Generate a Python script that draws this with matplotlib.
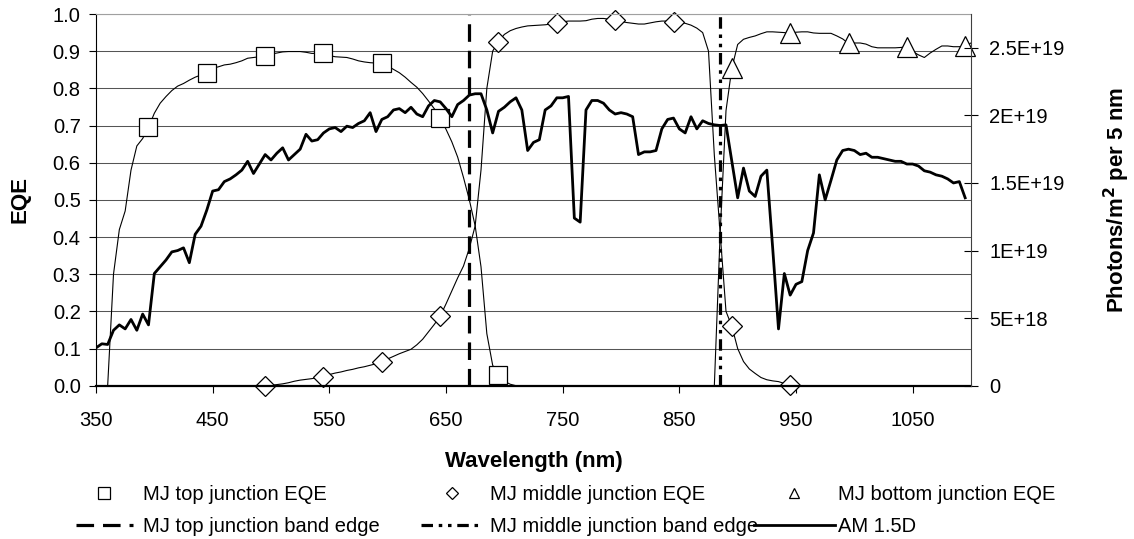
import matplotlib.pyplot as plt
import numpy as np
from matplotlib.lines import Line2D

plt.rcParams['font.family'] = ['Liberation Sans', 'DejaVu Sans']

# AM 1.5D spectrum, photons/m^2 per 5 nm (in units of 1E+18), 350..1095 nm
wl_am = np.arange(350, 1100, 5)
am15d = [2.8, 3.1, 3.05, 4.1, 4.5, 4.2, 4.9, 4.1, 5.3, 4.5,
         8.3, 8.8, 9.3, 9.9, 10.0, 10.2, 9.1, 11.2, 11.8, 13.0,
         14.4, 14.5, 15.1, 15.3, 15.6, 15.95, 16.6, 15.7, 16.4, 17.1,
         16.7, 17.2, 17.6, 16.7, 17.1, 17.5, 18.6, 18.1, 18.2, 18.7,
         19.0, 19.1, 18.8, 19.2, 19.1, 19.4, 19.6, 20.2, 18.8, 19.7,
         19.9, 20.4, 20.5, 20.2, 20.6, 20.1, 19.9, 20.7, 21.1, 21.0,
         20.5, 19.9, 20.8, 21.1, 21.5, 21.6, 21.6, 20.4, 18.7, 20.3,
         20.6, 21.0, 21.3, 20.4, 17.4, 18.0, 18.2, 20.4, 20.7, 21.3,
         21.3, 21.4, 12.4, 12.1, 20.4, 21.1, 21.1, 20.9, 20.4, 20.1,
         20.2, 20.1, 19.9, 17.1, 17.3, 17.3, 17.4, 19.0, 19.7, 19.8,
         19.0, 18.7, 19.9, 19.0, 19.6, 19.4, 19.3, 19.25, 19.3, 16.6,
         13.9, 16.1, 14.4, 14.0, 15.5, 15.95, 10.2, 4.2, 8.3, 6.7,
         7.5, 7.7, 10.0, 11.3, 15.6, 13.75, 15.2, 16.7, 17.4, 17.5,
         17.4, 17.1, 17.2, 16.9, 16.9, 16.8, 16.7, 16.6, 16.6, 16.4,
         16.4, 16.25, 15.9, 15.8, 15.6, 15.5, 15.3, 15.0, 15.1, 13.9]

# top junction EQE, 360..710 nm
wl_top = np.arange(360, 715, 5)
eqe_top = [0.0, 0.30, 0.42, 0.47, 0.58, 0.645, 0.665, 0.695,
           0.733, 0.760, 0.778, 0.794, 0.806, 0.813, 0.822, 0.830, 0.836, 0.842,
           0.854, 0.858, 0.863, 0.865, 0.869, 0.874, 0.881, 0.883, 0.885, 0.888,
           0.892, 0.895, 0.898, 0.899, 0.899, 0.899, 0.897, 0.894, 0.894, 0.894,
           0.888, 0.885, 0.884, 0.883, 0.879, 0.874, 0.871, 0.869, 0.868, 0.867,
           0.860, 0.851, 0.842, 0.830, 0.816, 0.803, 0.786, 0.766, 0.745, 0.720,
           0.690, 0.656, 0.615, 0.560, 0.500, 0.430, 0.320, 0.140, 0.055, 0.030,
           0.012, 0.004, 0.0]

# middle junction EQE, 495..945 nm
wl_mid = np.arange(495, 950, 5)
eqe_mid = [0.0,
           0.001, 0.003, 0.005, 0.008, 0.012, 0.015, 0.017, 0.019, 0.022, 0.024,
           0.030, 0.034, 0.037, 0.041, 0.044, 0.048, 0.051, 0.055, 0.059, 0.065,
           0.072, 0.079, 0.086, 0.092, 0.098, 0.110, 0.125, 0.145, 0.165, 0.187,
           0.220, 0.255, 0.290, 0.322, 0.370, 0.430, 0.580, 0.800, 0.900, 0.926,
           0.945, 0.955, 0.961, 0.965, 0.968, 0.969, 0.970, 0.971, 0.973, 0.977,
           0.979, 0.981, 0.981, 0.981, 0.982, 0.986, 0.988, 0.988, 0.986, 0.984,
           0.980, 0.977, 0.975, 0.973, 0.973, 0.976, 0.979, 0.981, 0.981, 0.979,
           0.978, 0.975, 0.970, 0.962, 0.950, 0.900, 0.620, 0.410, 0.200, 0.160,
           0.100, 0.065, 0.045, 0.033, 0.022, 0.016, 0.013, 0.011, 0.006, 0.002]

# bottom junction EQE, 880..1100 nm
wl_bot = np.arange(880, 1105, 5)
eqe_bot = [0.0, 0.41, 0.74, 0.854,
           0.918, 0.932, 0.937, 0.941, 0.947, 0.952, 0.952, 0.951, 0.950, 0.948,
           0.951, 0.952, 0.952, 0.949, 0.948, 0.948, 0.948, 0.941, 0.933, 0.921,
           0.922, 0.922, 0.919, 0.912, 0.909, 0.909, 0.909, 0.909, 0.910, 0.912,
           0.899, 0.890, 0.883, 0.895, 0.905, 0.914, 0.914, 0.912, 0.912, 0.914,
           0.922]

band_edges = [670, 885]

xticks = [350, 450, 550, 650, 750, 850, 950, 1050]
yticks = [0.0, 0.1, 0.2, 0.3, 0.4, 0.5, 0.6, 0.7, 0.8, 0.9, 1.0]
r_ticks = [0, 5e18, 1e19, 1.5e19, 2e19, 2.5e19]
r_labels = ['0', '5E+18', '1E+19', '1.5E+19', '2E+19', '2.5E+19']

dash_top = (5.5, 2.8)
dash_mid = (3.6, 1.8, 1.1, 1.8, 1.1, 1.8)

fig = plt.figure(figsize=(11.34, 5.39), dpi=100)
ax = fig.add_axes([96/1134, 1-385.7/539, 875/1134, 371.7/539])

ax.set_xlim(350, 1100)
ax.set_ylim(0, 1.0)
ax.set_yticks(yticks)
ax.set_yticklabels(['%.1f' % v for v in yticks])
ax.set_xticks(xticks)
ax.grid(axis='y', color='#555555', lw=0.75)
ax.set_axisbelow(True)

mk = dict(color='k', lw=0.8, mfc='white', mec='k', mew=0.9, clip_on=False)
ax.plot(wl_top, eqe_top, marker='s', ms=13, markevery=(7, 10), **mk)
ax.plot(wl_mid, eqe_mid, marker='D', ms=10, markevery=(0, 10), **mk)
ax.plot(wl_bot, eqe_bot, marker='^', ms=14, markevery=(3, 10), **mk)

ax.axvline(band_edges[0], color='k', lw=2.3, dashes=dash_top)
ax.axvline(band_edges[1], color='k', lw=2.3, dashes=dash_mid)

ax.tick_params(axis='both', labelsize=14.5, color='k')
ax.tick_params(axis='y', direction='out', length=5, pad=6)
ax.tick_params(axis='x', direction='out', length=5, pad=13)
ax.spines['bottom'].set_linewidth(1.6)
ax.spines['top'].set_color('#a0a0a0')
ax.spines['right'].set_visible(False)

ax.set_xlabel('Wavelength (nm)', fontsize=16, fontweight='bold')
ax.xaxis.set_label_coords(0.5, (385.7 - 461) / 371.7)
ax.xaxis.label.set_verticalalignment('center')
ax.set_ylabel('EQE', fontsize=16, fontweight='bold')
ax.yaxis.set_label_coords((20 - 96) / 875, 0.5)
ax.yaxis.label.set_verticalalignment('center')

ax2 = ax.twinx()
ax2.plot(wl_am, np.array(am15d) * 1e18, color='k', lw=2.0)
ax2.set_ylim(0, 2.75e19)
ax2.set_yticks(r_ticks)
ax2.set_yticklabels(r_labels)
ax2.tick_params(axis='y', direction='inout', length=10, pad=8, labelsize=14.5)
ax2.spines['right'].set_color('#404040')
ax2.spines['top'].set_visible(False)
ax2.spines['left'].set_visible(False)
ax2.spines['bottom'].set_visible(False)
ax2.set_ylabel('Photons/m$^\\mathbf{2}$ per 5 nm', fontsize=16, fontweight='bold')
ax2.yaxis.set_label_coords((1117 - 96) / 875, 0.5)
ax2.yaxis.label.set_verticalalignment('center')

# legend, three columns placed like the original
leg_kw = dict(frameon=False, fontsize=14.5, borderpad=0, borderaxespad=0,
              labelspacing=0.6, loc='upper left')
h_top = [Line2D([], [], ls='none', marker='s', ms=8, mfc='white', mec='k', mew=0.9),
         Line2D([], [], color='k', lw=2.3, dashes=dash_top)]
h_mid = [Line2D([], [], ls='none', marker='D', ms=6, mfc='white', mec='k', mew=0.9),
         Line2D([], [], color='k', lw=2.3, dashes=dash_mid)]
h_bot = [Line2D([], [], ls='none', marker='^', ms=7.5, mfc='white', mec='k', mew=0.9),
         Line2D([], [], color='k', lw=2.0)]
top_y = 1 - 485.5/539
fig.legend(h_top, ['MJ top junction EQE', 'MJ top junction band edge'],
           bbox_to_anchor=(76/1134, top_y), handlelength=2.83,
           handletextpad=0.5, **leg_kw)
fig.legend(h_mid, ['MJ middle junction EQE', 'MJ middle junction band edge'],
           bbox_to_anchor=(421/1134, top_y), handlelength=3.08,
           handletextpad=0.35, **leg_kw)
fig.legend(h_bot, ['MJ bottom junction EQE', 'AM 1.5D'],
           bbox_to_anchor=(754/1134, top_y), handlelength=4.0,
           handletextpad=0.15, **leg_kw)

fig.savefig('out.png', dpi=100)
